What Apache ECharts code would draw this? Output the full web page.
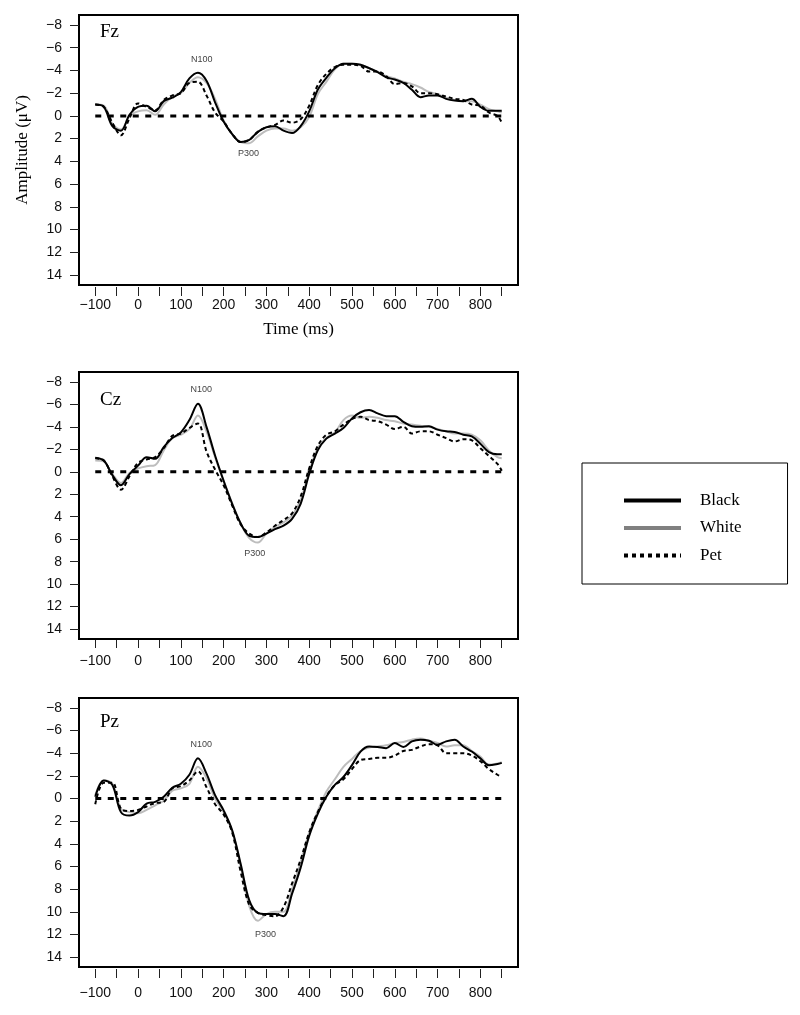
<!DOCTYPE html>
<html>
<head>
<meta charset="utf-8">
<script src="https://cdn.jsdelivr.net/npm/echarts@6/dist/echarts.min.js"></script>
<style>
html,body{margin:0;padding:0;background:#fff;}
#chart{width:800px;height:1015px;}
</style>
</head>
<body>
<div id="chart"></div>
<script>
// ---- data (time in ms, amplitude in µV) ----
const times = [-100,-80,-60,-40,-20,0,20,40,60,80,100,120,140,160,180,200,220,240,260,280,300,320,340,360,380,400,420,440,460,480,500,520,540,560,580,600,620,640,660,680,700,720,740,760,780,800,820,840,850];

const fzBlack = [-1.0,-0.8,0.9,1.3,-0.1, -0.8,-0.9,-0.4,-1.3,-1.6, -2.1,-3.3,-3.8,-3.1,-1.2, 0.5,1.6,2.3,2.1,1.4, 1.0,0.9,1.3,1.5,0.9, -0.4,-2.3,-3.35,-4.2,-4.6, -4.6,-4.5,-4.2,-3.85,-3.4, -3.2,-2.9,-2.3,-1.65,-1.8, -1.8,-1.5,-1.35,-1.3,-1.5, -0.8,-0.45,-0.45,-0.45];
const fzWhite = [-1.0,-0.9,0.7,1.2,0.0, -0.4,-0.5,-0.1,-1.0,-1.7, -2.0,-2.9,-3.4,-2.9,-1.5, 0.4,1.6,2.3,2.4,1.8, 1.3,1.1,1.1,1.3,1.0, 0.1,-1.9,-3.0,-4.1,-4.6, -4.6,-4.5,-4.2,-3.9,-3.5, -3.3,-3.0,-2.8,-2.5,-2.1, -1.9,-1.6,-1.4,-1.3,-1.3, -1.0,-0.6,-0.4,-0.3];
const fzPet = [-1.0,-0.8,0.6,1.7,0.2, -1.1,-0.8,-0.5,-1.4,-1.8, -2.0,-2.9,-3.0,-1.8,-0.3, 0.5,1.6,2.3,2.1,1.4, 1.0,0.8,0.4,0.6,0.3, -0.9,-2.7,-3.7,-4.3,-4.5, -4.5,-4.4,-3.9,-3.9,-3.5, -2.8,-2.9,-2.6,-2.0,-2.0, -1.9,-1.7,-1.5,-1.4,-1.0, -0.9,-0.3,0.0,0.6];

const czBlack = [-1.25,-1.0,0.3,1.2,0.2, -0.55,-1.3,-1.15,-2.2,-3.0, -3.5,-4.6,-6.05,-4.0,-1.45, 0.8,2.85,4.6,5.7,5.8, 5.5,5.1,4.8,4.2,2.85, 0.2,-1.9,-2.95,-3.4,-3.9, -4.75,-5.3,-5.5,-5.2,-4.95, -4.95,-4.45,-4.05,-4.0,-4.05, -3.75,-3.6,-3.55,-3.3,-3.15, -2.5,-1.75,-1.55,-1.55];
const czWhite = [-1.0,-0.9,0.2,1.0,0.1, -0.3,-0.5,-0.6,-1.9,-3.0, -3.3,-3.8,-5.0,-3.6,-1.3, 0.8,2.8,4.6,5.9,6.3, 5.5,4.9,4.5,3.9,2.5, 0.0,-2.1,-3.0,-3.5,-4.6, -5.0,-4.8,-4.9,-4.8,-4.6, -4.5,-4.3,-4.2,-4.1,-4.0, -3.8,-3.6,-3.4,-3.4,-3.3, -2.8,-1.9,-1.3,-1.2];
const czPet = [-1.2,-1.0,0.4,1.6,0.4, -0.8,-1.1,-1.3,-2.1,-3.2, -3.4,-3.9,-4.3,-1.8,-0.2, 1.2,3.0,4.7,5.5,5.8, 5.4,4.8,4.3,3.7,2.2, -0.3,-2.3,-3.3,-3.6,-4.2, -4.7,-4.9,-4.6,-4.5,-4.2, -3.8,-4.0,-3.4,-3.6,-3.6, -3.3,-3.0,-2.7,-2.9,-2.8, -2.1,-1.4,-0.7,-0.1];

const pzBlack = [-0.15,-1.6,-1.2,1.2,1.5, 1.2,0.45,0.3,-0.15,-0.95, -1.3,-2.1,-3.55,-2.2,-0.3, 1.05,2.8,5.8,9.0,10.1, 10.2,10.2,10.4,8.4,6.1, 3.3,1.35,-0.15,-1.2,-1.9, -2.95,-4.15,-4.6,-4.55,-4.45, -4.9,-4.55,-5.05,-5.2,-5.1, -4.75,-5.05,-5.2,-4.6,-4.15, -3.55,-2.95,-3.05,-3.15];
const pzWhite = [-0.3,-1.6,-1.3,0.9,1.2, 1.3,1.0,0.6,0.2,-0.7, -0.9,-1.3,-2.8,-1.8,0.0, 1.2,2.9,6.0,9.5,10.8, 10.2,10.0,10.0,8.0,5.6, 3.0,1.1,-0.6,-1.7,-2.8, -3.5,-4.2,-4.5,-4.6,-4.7, -4.9,-5.0,-5.2,-5.3,-5.1, -4.9,-4.6,-4.7,-4.7,-4.2, -3.7,-3.0,-3.1,-3.2];
const pzPet = [0.5,-1.4,-1.4,0.9,1.1, 1.0,0.7,0.4,0.3,-0.9, -1.1,-1.6,-2.4,-1.0,0.5, 1.4,3.0,6.5,9.4,10.1, 10.3,10.4,9.6,7.5,5.4, 3.0,1.2,-0.2,-1.2,-1.7, -2.6,-3.4,-3.5,-3.6,-3.6, -3.8,-4.2,-4.3,-4.6,-4.8, -4.7,-4.0,-4.0,-4.0,-3.8, -3.3,-2.6,-2.1,-1.9];

// zero reference line
const zeroTimes = [-100, 850];
const zeroValues = [0, 0];

// axis ticks / labels
const xTicks = [-100,-50,0,50,100,150,200,250,300,350,400,450,500,550,600,650,700,750,800,850];
const xTickLabels = [-100,0,100,200,300,400,500,600,700,800];
const yTicks = [-8,-6,-4,-2,0,2,4,6,8,10,12,14];

// peak annotations (time, amplitude of label anchor)
const fzNotes = [{name:'N100', t:149, v:-5.0}, {name:'P300', t:258, v:3.3}];
const czNotes = [{name:'N100', t:148, v:-7.3}, {name:'P300', t:273, v:7.3}];
const pzNotes = [{name:'N100', t:148, v:-4.75}, {name:'P300', t:298, v:12.0}];

// ---- layout / style ----
const panels = [
  {name:'Fz', black:fzBlack, white:fzWhite, pet:fzPet, notes:fzNotes, top:15, height:270, off:2, tick:9, margin:11, labelTop:23},
  {name:'Cz', black:czBlack, white:czWhite, pet:czPet, notes:czNotes, top:372, height:267, off:1, tick:8, margin:14, labelTop:391},
  {name:'Pz', black:pzBlack, white:pzWhite, pet:pzPet, notes:pzNotes, top:698, height:269, off:2, tick:9, margin:17, labelTop:713}
];
const SANS = 'Liberation Sans, Arial, sans-serif';
const SERIF = 'Liberation Serif, Times New Roman, serif';
const fmtNum = v => (v < 0 ? '\u2212' + Math.abs(v) : String(v));
const pairs = (xs, ys) => xs.map((x, i) => [x, ys[i]]);

const grid = [], xAxis = [], yAxis = [], series = [], title = [];
panels.forEach((p, i) => {
  grid.push({left:79, width:439, top:p.top, height:p.height, show:true, borderColor:'#000', borderWidth:2, backgroundColor:'transparent'});
  xAxis.push({
    type:'value', gridIndex:i, min:-138, max:888, offset:p.off, position:'bottom',
    axisLine:{show:false, onZero:false},
    axisTick:{show:true, length:p.tick, customValues:xTicks, lineStyle:{color:'#222', width:1}},
    axisLabel:{show:true, customValues:xTickLabels, margin:p.margin, formatter:fmtNum, fontFamily:SANS, fontSize:14, color:'#111'},
    splitLine:{show:false},
    name: i === 0 ? 'Time (ms)' : '', nameLocation:'middle', nameGap:34,
    nameTextStyle:{fontFamily:SERIF, fontSize:17, color:'#000'}
  });
  yAxis.push({
    type:'value', gridIndex:i, inverse:true, min:-8.88, max:14.88, position:'left',
    axisLine:{show:false, onZero:false},
    axisTick:{show:true, length:9, customValues:yTicks, lineStyle:{color:'#222', width:1}},
    axisLabel:{show:true, customValues:yTicks, margin:17, formatter:fmtNum, fontFamily:SANS, fontSize:14, color:'#111'},
    splitLine:{show:false},
    name: i === 0 ? 'Amplitude (\u03bcV)' : '', nameLocation:'middle', nameGap:48,
    nameTextStyle:{fontFamily:SERIF, fontSize:17, color:'#000'}
  });
  title.push({text:p.name, left:100, top:p.labelTop, padding:0, textStyle:{fontFamily:SERIF, fontSize:19, fontWeight:'normal', color:'#000'}});

  series.push({
    name:'White', type:'line', xAxisIndex:i, yAxisIndex:i, symbol:'none', smooth:0.35,
    data:pairs(times, p.white), lineStyle:{color:'#bdbdbd', width:2}, itemStyle:{color:'#bdbdbd'}, z:2
  });
  series.push({
    name:'Pet', type:'line', xAxisIndex:i, yAxisIndex:i, symbol:'none', smooth:0.35,
    data:pairs(times, p.pet), lineStyle:{color:'#000', width:2, type:[4,3]}, itemStyle:{color:'#000'}, z:3
  });
  series.push({
    name:'Black', type:'line', xAxisIndex:i, yAxisIndex:i, symbol:'none', smooth:0.35,
    data:pairs(times, p.black), lineStyle:{color:'#000', width:2}, itemStyle:{color:'#000'}, z:4,
    markPoint:{
      symbol:'circle', symbolSize:0, silent:true, animation:false,
      label:{show:true, position:'inside', formatter:'{b}', fontFamily:SANS, fontSize:9, color:'#444'},
      data:p.notes.map(n => ({name:n.name, coord:[n.t, n.v]}))
    }
  });
  series.push({
    name:'zero', type:'line', xAxisIndex:i, yAxisIndex:i, symbol:'none',
    data:pairs(zeroTimes, zeroValues), lineStyle:{color:'#000', width:3, type:[6,6.5]}, z:5, silent:true
  });
});

const chart = echarts.init(document.getElementById('chart'), null, {renderer:'canvas'});
chart.setOption({
  animation:false,
  backgroundColor:'#fff',
  title:title,
  grid:grid, xAxis:xAxis, yAxis:yAxis, series:series,
  legend:{
    data:[
      {name:'Black', lineStyle:{color:'#000', width:4, type:'solid'}, itemStyle:{opacity:0}},
      {name:'White', lineStyle:{color:'#808080', width:4, type:'solid'}, itemStyle:{opacity:0}},
      {name:'Pet', lineStyle:{color:'#000', width:4, type:[4,4]}, itemStyle:{opacity:0}}
    ],
    orient:'vertical', left:582, top:463,
    itemWidth:57, itemHeight:14, itemGap:10.5,
    padding:[29, 46, 20, 40],
    borderColor:'#000', borderWidth:1,
    selectedMode:false,
    textStyle:{fontFamily:SERIF, fontSize:17, color:'#000', padding:[0,0,0,14]}
  }
});
</script>
</body>
</html>
